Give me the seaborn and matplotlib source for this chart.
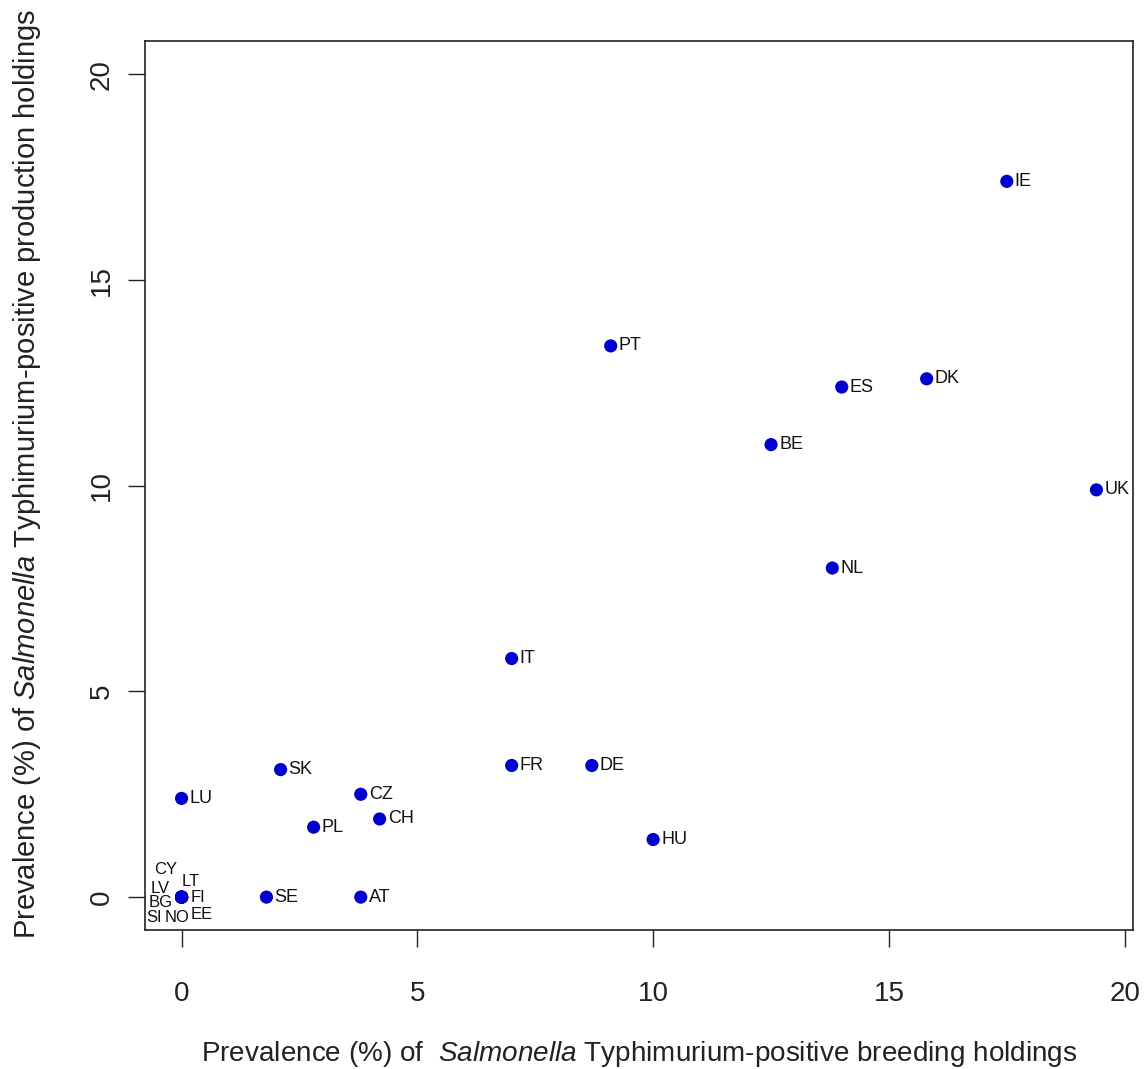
import matplotlib
matplotlib.use("Agg")
import matplotlib.pyplot as plt
import seaborn as sns
import pandas as pd

countries = ["IE", "PT", "DK", "ES", "BE", "UK", "NL", "IT", "SK", "FR", "DE",
             "LU", "CZ", "CH", "PL", "HU", "SE", "AT"]
breeding = [17.5, 9.1, 15.8, 14.0, 12.5, 19.4, 13.8, 7.0, 2.1, 7.0, 8.7,
            0.0, 3.8, 4.2, 2.8, 10.0, 1.8, 3.8]
production = [17.4, 13.4, 12.6, 12.4, 11.0, 9.9, 8.0, 5.8, 3.1, 3.2, 3.2,
              2.4, 2.5, 1.9, 1.7, 1.4, 0.0, 0.0]

# countries at (0, 0), labelled around the shared point
zero_countries = ["CY", "LT", "LV", "FI", "BG", "SI", "NO", "EE"]

sns.set_style("ticks")
plt.rcParams["font.family"] = ["Liberation Sans", "DejaVu Sans"]
plt.rcParams["mathtext.fontset"] = "custom"
plt.rcParams["mathtext.it"] = "Liberation Sans:italic"
plt.rcParams["mathtext.rm"] = "Liberation Sans"

df = pd.DataFrame({"country": countries, "breeding": breeding, "production": production})
dfz = pd.DataFrame({"country": zero_countries,
                    "breeding": [0.0] * len(zero_countries),
                    "production": [0.0] * len(zero_countries)})
alldf = pd.concat([df, dfz], ignore_index=True)

fig = plt.figure(figsize=(11.47, 10.69), dpi=100)
ax = fig.add_axes([0.1264, 0.130, 0.9878 - 0.1264, 0.9612 - 0.130])

sns.scatterplot(data=alldf, x="breeding", y="production", ax=ax,
                color="#0000CD", s=90, edgecolor="none", zorder=3, legend=False)

for _, r in df.iterrows():
    ax.annotate(r["country"], (r["breeding"], r["production"]),
                xytext=(8, 0), textcoords="offset pixels",
                ha="left", va="center", fontsize=13, color="#111111")

# manual offsets (pixels) for the crowded labels at the origin
zero_offsets = {"CY": (-16, 28, "center"), "LT": (0, 16, "left"),
                "LV": (-21, 9, "center"), "FI": (9, 0, "left"),
                "BG": (-21, -5, "center"), "SI": (-35, -20, "left"),
                "NO": (-17, -20, "left"), "EE": (9, -17, "left")}
for c in zero_countries:
    dx, dy, ha = zero_offsets[c]
    ax.annotate(c, (0, 0), xytext=(dx, dy), textcoords="offset pixels",
                ha=ha, va="center", fontsize=12, color="#111111")

ax.set_xlim(-0.776, 20.176)
ax.set_ylim(-0.8, 20.8)
ax.set_xticks([0, 5, 10, 15, 20])
ax.set_yticks([0, 5, 10, 15, 20])
ax.tick_params(axis="both", direction="out", length=12, width=1.0,
               labelsize=20, colors="#222222")
ax.tick_params(axis="x", pad=25)
ax.tick_params(axis="y", pad=10)
for lab in ax.get_yticklabels():
    lab.set_rotation(90)
    lab.set_va("center")
for s in ax.spines.values():
    s.set_visible(True)
    s.set_linewidth(1.2)
    s.set_color("#222222")

ax.set_xlabel(r"Prevalence (%) of  $\it{Salmonella}$ Typhimurium-positive breeding holdings",
              fontsize=20.1, labelpad=23, color="#222222")
ax.set_ylabel(r"Prevalence (%) of $\it{Salmonella}$ Typhimurium-positive production holdings",
              fontsize=21, color="#222222")
ax.yaxis.set_label_coords(-0.1032, 0.513)

fig.savefig("out.png", dpi=100)
